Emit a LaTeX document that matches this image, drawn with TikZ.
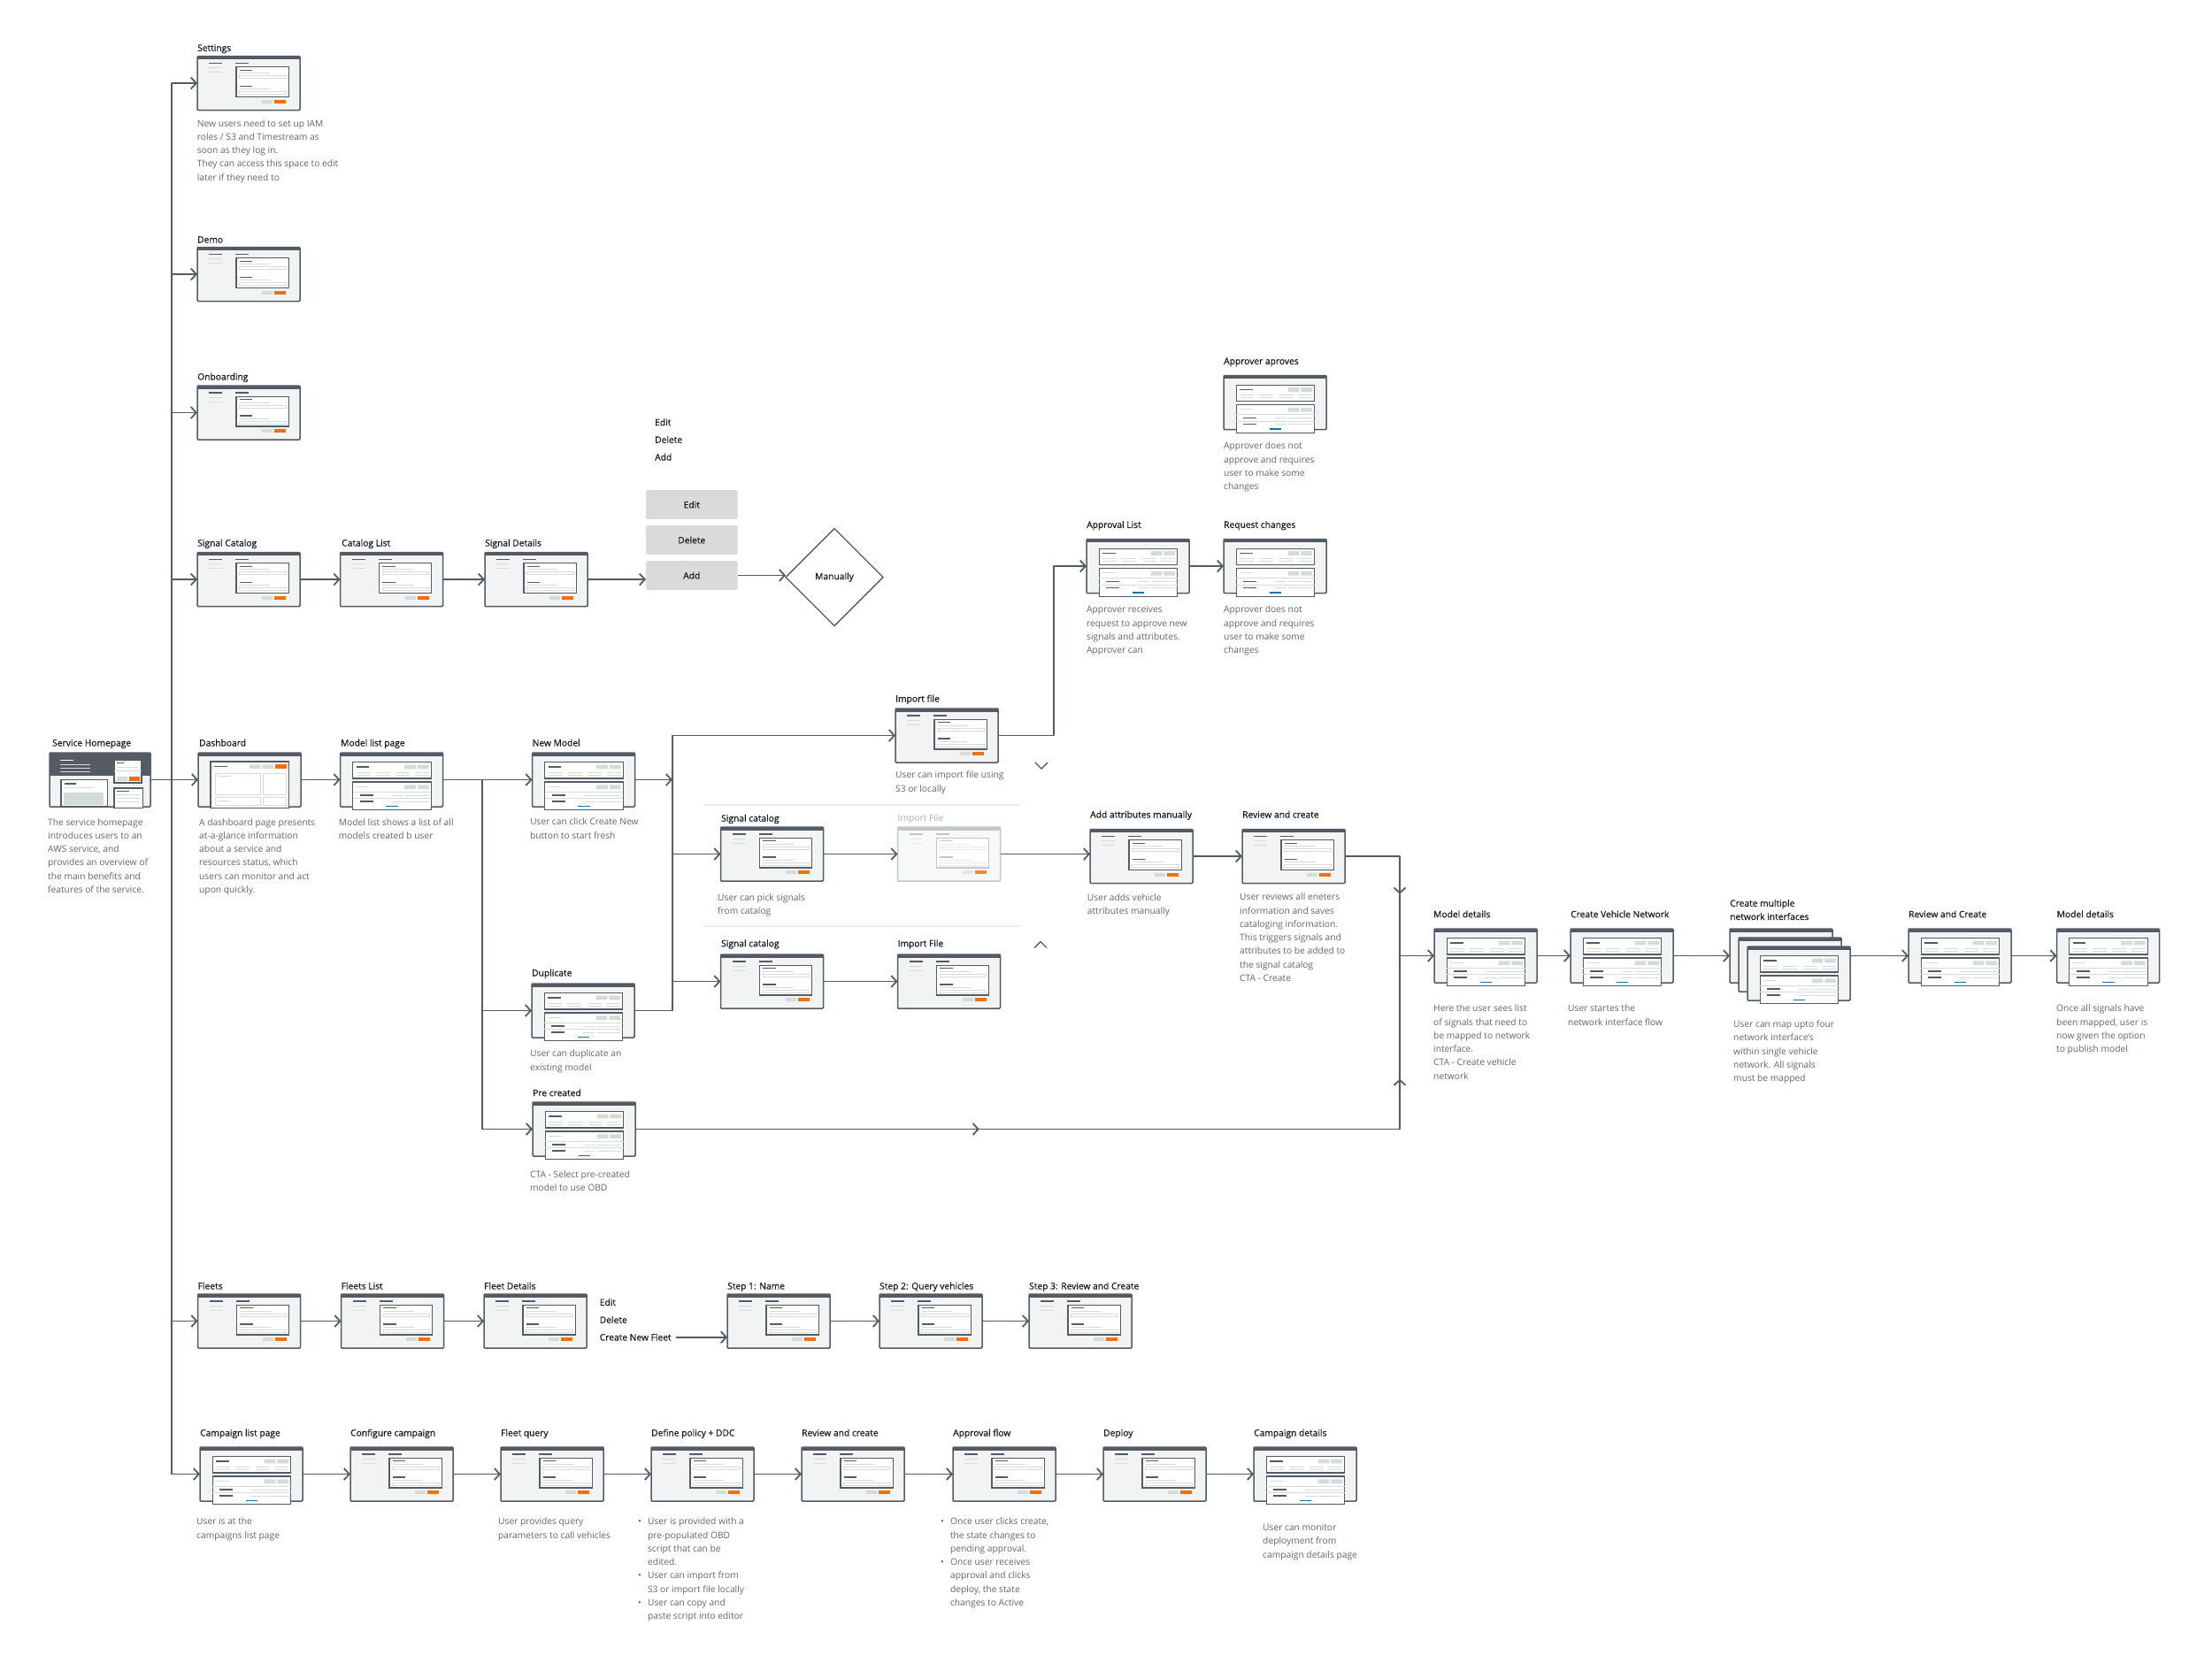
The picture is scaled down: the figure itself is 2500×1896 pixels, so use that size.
\documentclass[tikz,border=0pt]{standalone}
\usepackage{fontspec}
\setmainfont{Open Sans}
\newfontfamily\uititlefam[FakeBold=0.5]{Open Sans}
\usetikzlibrary{arrows.meta,shapes.geometric,decorations.markings}
\definecolor{uidark}{HTML}{545B64}
\definecolor{uifill}{HTML}{F2F3F3}
\definecolor{uiline}{HTML}{D5DBDB}
\definecolor{uibox}{HTML}{D5DBDB}
\definecolor{uiorange}{HTML}{EC7211}
\definecolor{uiblue}{HTML}{0073BB}
\definecolor{ttlc}{HTML}{16191F}
\definecolor{descc}{HTML}{5F6670}
\definecolor{connc}{HTML}{545B64}
\definecolor{btnc}{HTML}{DADADA}
\definecolor{sepc}{HTML}{E9EBED}
\definecolor{fadec}{HTML}{A9AFB5}
\newcommand\uifont{\fontsize{10.25}{15.3}\selectfont}
\newcommand\uitfont{\uititlefam\fontsize{10.25}{15.3}\selectfont}
\newcommand\uithumb[3]{\node[thumb] (#1) at (#2) {}; \pic at (#1.north west) {#3};}
\newcommand\uititle[3]{\node[ttl] (#1) at (#2) {#3};}
\newcommand\uidesc[3]{\node[desc] (#1) at (#2) {\begin{tabular}{@{}l@{}}#3\end{tabular}};}
\tikzset{
formui/.pic={
 \fill[uidark] (0,0) rectangle (116,3.5);
 \draw[uidark,line width=1.2] (13.3,8)--(28,8) (43.3,8)--(58,8);
 \draw[uiline,line width=1] (13.3,13.3)--(28,13.3) (13.3,18)--(28,18);
 \draw[uidark,fill=white,line width=1.1] (44,12.3) rectangle (103.3,46);
 \draw[uidark,line width=1.1] (47.7,15.7)--(62.3,15.7) (47.7,34)--(62.3,34);
 \draw[uiline,line width=1] (47.7,19.3)--(82,19.3) (47.7,37.3)--(82,37.3);
 \draw[uiline,line width=.8] (47.7,22.3) rectangle (100,25.3) (47.7,40) rectangle (100,43.3);
 \fill[uibox] (73,49) rectangle (85.3,53.3);
 \fill[uiorange] (87.3,49) rectangle (100.3,53.3);
},
listui/.pic={
 \fill[uidark] (0,0) rectangle (116,3.5);
 \draw[uidark,fill=white,line width=1.1] (14.3,10.7) rectangle (102.7,29);
 \draw[uidark,line width=1.2] (18.3,16)--(32.7,16);
 \fill[uibox] (72.7,13.7) rectangle (85.3,18.3) (87.3,13.7) rectangle (100,18.3);
 \foreach \yy in {22.3,25.3}{\draw[uiline,line width=.9] (18.3,\yy)--(34,\yy) (40,\yy)--(56,\yy) (62.7,\yy)--(78.7,\yy) (84.3,\yy)--(100,\yy);}
 \draw[uidark,fill=white,line width=1.1] (14.3,33) rectangle (102.7,64.7);
 \draw[uiline,line width=1] (18.3,38.3)--(32.7,38.3);
 \fill[uibox] (72.7,36.3) rectangle (85.3,41) (87.3,36.3) rectangle (100,41);
 \draw[uiline,line width=.9] (14.3,44)--(102.7,44) (14.3,51.7)--(102.7,51.7);
 \draw[uidark,line width=1.2] (22.3,48)--(37.3,48) (22.3,55)--(37.3,55);
 \draw[uiline,line width=.9] (58.3,48)--(71,48) (73.3,48)--(100,48) (58.3,55)--(71,55) (73.3,55)--(100,55);
 \draw[uiblue,line width=1.5] (51.7,60.7)--(65,60.7);
},
dashui/.pic={
 \fill[uidark] (0,0) rectangle (116,3.5);
 \draw[uidark,fill=white,line width=1.1] (14,10) rectangle (102.3,62.3);
 \draw[uidark,line width=1.2] (18.3,15.7)--(33,15.7);
 \fill[uibox] (58,13.3) rectangle (70.7,18) (72.3,13.3) rectangle (85,18);
 \fill[uiorange] (87.3,13.3) rectangle (99.7,18);
 \draw[uiline,line width=1] (19,23) rectangle (70,47.3) (73.3,23) rectangle (99,47.3) (19,50.7) rectangle (70,59.5) (73.3,50.7) rectangle (99,59.5);
 \draw[uiline,line width=1] (22,26.5)--(37,26.5) (22,54)--(37,54);
},
homeui/.pic={
 \fill[uidark] (0,0) rectangle (114,25.7);
 \draw[white,line width=1.2] (12.3,8.3)--(27.3,8.3);
 \draw[uiline,line width=1] (12.3,13.3)--(45.7,13.3) (12.3,17.3)--(45.7,17.3) (12.3,21.3)--(45.7,21.3);
 \draw[uidark,fill=white,line width=1.1] (73,8) rectangle (104,34);
 \draw[uidark,line width=1.1] (76.3,11.3)--(84,11.3);
 \draw[uiline,line width=.9] (76.3,16.5)--(100,16.5) (73,20)--(104,20);
 \fill[uibox] (76.3,27.3) rectangle (88,32);
 \fill[uiorange] (90,27.3) rectangle (102,32);
 \draw[uidark,fill=white,line width=1.1] (13,30.7) rectangle (65.7,61);
 \draw[uidark,line width=1.1] (17,35)--(30,35);
 \draw[uiline,line width=.9] (17,39)--(50,39);
 \fill[uibox] (15.7,45) rectangle (61.3,59);
 \draw[uidark,fill=white,line width=1.1] (73,40) rectangle (105.7,62.3);
 \draw[uidark,line width=1.1] (76,43.3)--(90,43.3);
 \draw[uiline,line width=.9] (76,47.5)--(102,47.5) (76,51.5)--(102,51.5) (76,55.5)--(102,55.5);
},
barui/.pic={
 \fill[uidark] (0,0) rectangle (116,3.5);
}
}
\begin{document}
\begin{tikzpicture}[x=1pt,y=-1pt,
 thumb/.style={draw=uidark,fill=uifill,line width=1.5,rounded corners=1,minimum width=116,minimum height=61,inner sep=0,outer sep=0,anchor=north west},
 ttl/.style={anchor=base west,inner sep=0,font=\uitfont,text=ttlc},
 desc/.style={anchor=north west,inner sep=0,font=\uifont,text=descc},
 conn/.style={draw=connc,line width=1.8,line join=round},
 arr/.style={conn,-{Straight Barb[length=6pt,width=13pt]}},
 marrow/.style={postaction={decorate,decoration={markings,mark=at position #1 with {\arrow{Straight Barb[length=6pt,width=13pt]}}}}},
 btn/.style={fill=btnc,rounded corners=2,minimum width=103.5,minimum height=33,inner sep=0,outer sep=0,anchor=north west,font=\uitfont,text=ttlc},
 chev/.style={draw=connc,line width=1.4,line join=miter},
 sepline/.style={draw=sepc,line width=1.8}
]
\fill[white] (0,0) rectangle (2500,1896);
\useasboundingbox (0,0) rectangle (2500,1896);

% ---------- left column ----------
\uithumb{settings}{223,63.5}{formui}
\uititle{t-settings}{223,57.8}{Settings}
\uidesc{d-settings}{222.7,132.1}{New users need to set up IAM\\roles / S3 and Timestream as\\soon as they log in.\\They can access this space to edit\\later if they need to}
\uithumb{demo}{223,279.5}{formui}
\uititle{t-demo}{223,274.5}{Demo}
\uithumb{onboard}{223,436}{formui}
\uititle{t-onboard}{223,429.5}{Onboarding}

% ---------- signal catalog row ----------
\uithumb{sigcat}{223,624.5}{formui}
\uititle{t-sigcat}{223,617.5}{Signal Catalog}
\uithumb{catl}{384.5,624.5}{formui}
\uititle{t-catl}{386,617.5}{Catalog List}
\uithumb{sigd}{548,624.5}{formui}
\uititle{t-sigd}{548,617.5}{Signal Details}
\uititle{e1}{740,481.2}{Edit}
\uititle{d1}{740,500.8}{Delete}
\uititle{a1}{740,520.5}{Add}
\node[btn] (bedit) at (730,554) {Edit};
\node[btn] (bdel) at (730,594) {Delete};
\node[btn] (badd) at (730,634) {Add};
\node[diamond,aspect=1,draw=uidark,line width=1.4,minimum width=110,minimum height=110,inner sep=0,outer sep=0,font=\uitfont,text=ttlc] (dia) at (943,652.5) {Manually};

% ---------- dashboard row ----------
\node[thumb,minimum width=114] (home) at (56,851) {};
\pic at (home.north west) {homeui};
\uititle{t-home}{59,843.5}{Service Homepage}
\uidesc{d-home}{54,922.1}{The service homepage\\introduces users to an\\AWS service, and\\provides an overview of\\the main benefits and\\features of the service.}
\uithumb{dash}{224,851}{dashui}
\uititle{t-dash}{225,843.5}{Dashboard}
\uidesc{d-dash}{225,922.1}{A dashboard page presents\\at-a-glance information\\about a service and\\resources status, which\\users can monitor and act\\upon quickly.}
\uithumb{mlist}{384.5,851}{listui}
\uititle{t-mlist}{385,843.5}{Model list page}
\uidesc{d-mlist}{382.7,922.1}{Model list shows a list of all\\models created b user}
\uithumb{newm}{601.5,851}{listui}
\uititle{t-newm}{601.5,843.5}{New Model}
\uidesc{d-newm}{598.8,921.8}{User can click Create New\\button to start fresh}
\uithumb{dup}{601,1112}{listui}
\uititle{t-dup}{601,1103.5}{Duplicate}
\uidesc{d-dup}{599,1183.8}{User can duplicate an\\existing model}
\uithumb{pre}{602,1246}{listui}
\uititle{t-pre}{602,1239.2}{Pre created}
\uidesc{d-pre}{599,1320.5}{CTA - Select pre-created\\model to use OBD}

% ---------- import / signal catalog options ----------
\uithumb{imp}{1012,801}{formui}
\uititle{t-imp}{1012,793.5}{Import file}
\uidesc{d-imp}{1012,868.8}{User can import file using\\S3 or locally}
\draw[sepline] (795,910) -- (1152.6,910);
\draw[sepline] (795,1047) -- (1152.6,1047);
\uithumb{sc1}{814.5,935}{formui}
\uititle{t-sc1}{815,928.7}{Signal catalog}
\uidesc{d-sc1}{811,1007.1}{User can pick signals\\from catalog}
\begin{scope}
\colorlet{uidark}{uidark!35}
\colorlet{uifill}{uifill!60}
\colorlet{uiline}{uiline!60}
\colorlet{uibox}{uibox!70}
\colorlet{uiorange}{uiorange!85}
\uithumb{impf}{1014.5,935}{formui}
\end{scope}
\node[desc,anchor=base west,text=fadec] (t-impf) at (1014.5,928.7) {Import File};
\uithumb{sc2}{814.5,1079}{formui}
\uititle{t-sc2}{815,1070.2}{Signal catalog}
\uithumb{imp2}{1014.5,1079}{formui}
\uititle{t-imp2}{1014.5,1070.2}{Import File}
\draw[chev] (1170,862) -- (1177,869) -- (1184,862);
\draw[chev] (1169,1071.5) -- (1176,1064.5) -- (1183,1071.5);

\uithumb{addm}{1232,937.5}{formui}
\uititle{t-addm}{1232,924.5}{Add attributes manually}
\uidesc{d-addm}{1228.7,1007.1}{User adds vehicle\\attributes manually}
\uithumb{rev}{1404,937.5}{formui}
\uititle{t-rev}{1404,924.5}{Review and create}
\uidesc{d-rev}{1401,1006.8}{User reviews all eneters\\information and saves\\cataloging information.\\This triggers signals and\\attributes to be added to\\the signal catalog\\CTA - Create}

% ---------- approval ----------
\uithumb{aprv}{1383,424.5}{listui}
\uititle{t-aprv}{1383,411.8}{Approver aproves}
\uidesc{d-aprv}{1383,496.8}{Approver does not\\approve and requires\\user to make some\\changes}
\uithumb{appl}{1228,609.5}{listui}
\uititle{t-appl}{1228,596.8}{Approval List}
\uidesc{d-appl}{1228,681.8}{Approver receives\\request to approve new\\signals and attributes.\\Approver can}
\uithumb{reqc}{1383,609.5}{listui}
\uititle{t-reqc}{1383,596.8}{Request changes}
\uidesc{d-reqc}{1383,681.8}{Approver does not\\approve and requires\\user to make some\\changes}

% ---------- model details row ----------
\uithumb{md}{1621,1050}{listui}
\uititle{t-md}{1620,1037.2}{Model details}
\uidesc{d-md}{1620,1132.8}{Here the user sees list\\of signals that need to\\be mapped to network\\interface.\\CTA - Create vehicle\\network}
\uithumb{cvn}{1775,1050}{listui}
\uititle{t-cvn}{1775,1037.2}{Create Vehicle Network}
\uidesc{d-cvn}{1772,1132.8}{User startes the\\network interface flow}
\uithumb{stk1}{1955,1050}{barui}
\uithumb{stk2}{1965,1060}{barui}
\uithumb{stk3}{1975,1070}{listui}
\uititle{t-stk1}{1955,1024.8}{Create multiple}
\uititle{t-stk2}{1955,1040}{network interfaces}
\uidesc{d-stk}{1959,1150.5}{User can map upto four\\network interface's\\within single vehicle\\network. All signals\\must be mapped}
\uithumb{rc2}{2157,1050}{listui}
\uititle{t-rc2}{2157,1037.2}{Review and Create}
\uithumb{md2}{2324.5,1050}{listui}
\uititle{t-md2}{2324.5,1037.2}{Model details}
\uidesc{d-md2}{2324,1132.8}{Once all signals have\\been mapped, user is\\now given the option\\to publish model}

% ---------- fleets row ----------
\uithumb{fleets}{223.5,1463}{formui}
\uititle{t-fleets}{223.5,1457.5}{Fleets}
\uithumb{fll}{385.5,1463}{formui}
\uititle{t-fll}{385.5,1457.5}{Fleets List}
\uithumb{fld}{547,1463}{formui}
\uititle{t-fld}{547,1457.5}{Fleet Details}
\uititle{e2}{677.6,1476}{Edit}
\uititle{d2}{677.6,1495.8}{Delete}
\uititle{cnf}{677.6,1515.5}{Create New Fleet}
\uithumb{st1}{822,1463}{formui}
\uititle{t-st1}{822,1457.5}{Step 1: Name}
\uithumb{st2}{994,1463}{formui}
\uititle{t-st2}{994,1457.5}{Step 2: Query vehicles}
\uithumb{st3}{1163,1463}{formui}
\uititle{t-st3}{1163,1457.5}{Step 3: Review and Create}

% ---------- campaign row ----------
\uithumb{camp}{226,1636}{listui}
\uititle{t-camp}{226,1623.5}{Campaign list page}
\uidesc{d-camp}{222,1712.8}{User is at the\\campaigns list page}
\uithumb{conf}{396,1636}{formui}
\uititle{t-conf}{396,1623.5}{Configure campaign}
\uithumb{fq}{566,1636}{formui}
\uititle{t-fq}{566,1623.5}{Fleet query}
\uidesc{d-fq}{563,1712.8}{User provides query\\parameters to call vehicles}
\uithumb{dp}{736,1636}{formui}
\uititle{t-dp}{736,1623.5}{Define policy + DDC}
\node[desc] (d-dp) at (721,1712.8) {\begin{tabular}{@{}l@{\hspace{7pt}}l@{}}\textbullet & User is provided with a\\ & pre-populated OBD\\ & script that can be\\ & edited.\\ \textbullet & User can import from\\ & S3 or import file locally\\ \textbullet & User can copy and\\ & paste script into editor\end{tabular}};
\uithumb{rcc}{906,1636}{formui}
\uititle{t-rcc}{906,1623.5}{Review and create}
\uithumb{af}{1077,1636}{formui}
\uititle{t-af}{1077,1623.5}{Approval flow}
\node[desc] (d-af) at (1063,1712.8) {\begin{tabular}{@{}l@{\hspace{7pt}}l@{}}\textbullet & Once user clicks create,\\ & the state changes to\\ & pending approval.\\ \textbullet & Once user receives\\ & approval and clicks\\ & deploy, the state\\ & changes to Active\end{tabular}};
\uithumb{dep}{1247,1636}{formui}
\uititle{t-dep}{1247,1623.5}{Deploy}
\uithumb{cd}{1417,1636}{listui}
\uititle{t-cd}{1417,1623.5}{Campaign details}
\uidesc{d-cd}{1427,1719.5}{User can monitor\\deployment from\\campaign details page}

% ---------- connectors ----------
\coordinate (tk) at (194,0);
\draw[conn,line cap=round] (tk |- settings.west) -- (tk |- camp.west);
\foreach \n in {settings,demo,onboard,sigcat,fleets,camp}
  \draw[arr] (tk |- \n.west) -- (\n.west);
\draw[arr] (sigcat.east) -- (catl.west);
\draw[arr] (catl.east) -- (sigd.west);
\draw[arr] (sigd.east) -- (sigd.east -| badd.west);
\draw[arr] (badd.east) -- (badd.east -| dia.west);

\draw[arr] (home.east) -- (dash.west);
\draw[arr] (dash.east) -- (mlist.west);
\draw[arr] (mlist.east) -- (newm.west);
\coordinate (br1) at (545,0);
\draw[conn,line cap=round] (br1 |- mlist.east) -- (br1 |- pre.west);
\draw[arr] (br1 |- dup.west) -- (dup.west);
\draw[arr] (br1 |- pre.west) -- (pre.west);

\coordinate (br2) at (760,0);
\draw[arr] (newm.east) -- (newm.east -| br2);
\draw[conn,line cap=round] (br2 |- imp.west) -- (br2 |- dup.east);
\draw[conn] (dup.east) -- (dup.east -| br2);
\draw[arr] (br2 |- imp.west) -- (imp.west);
\draw[arr] (br2 |- sc1.west) -- (sc1.west);
\draw[arr] (br2 |- sc2.west) -- (sc2.west);

\coordinate (br3) at (1191,0);
\draw[arr] (imp.east) -- (imp.east -| br3) -- (br3 |- appl.west) -- (appl.west);
\draw[arr] (appl.east) -- (reqc.west);

\draw[arr] (sc1.east) -- (impf.west);
\draw[arr] (impf.east) -- (impf.east -| addm.west);
\draw[arr] (addm.east) -- (rev.west);
\draw[arr] (sc2.east) -- (imp2.west);

\coordinate (br4) at (1582,0);
\draw[conn] (rev.east) -- (rev.east -| br4);
\draw[conn,line cap=round,marrow=0.38] (rev.east -| br4) -- (br4 |- md.west);
\draw[conn,marrow=0.45] (pre.east) -- (pre.east -| br4);
\draw[conn,line cap=round,marrow=0.29] (pre.east -| br4) -- (br4 |- md.west);
\draw[arr] (br4 |- md.west) -- (md.west);
\draw[arr] (md.east) -- (cvn.west);
\draw[arr] (cvn.east) -- (stk1.west);
\draw[arr] (stk3.east |- rc2.west) -- (rc2.west);
\draw[arr] (rc2.east) -- (md2.west);

\draw[arr] (fleets.east) -- (fll.west);
\draw[arr] (fll.east) -- (fld.west);
\draw[arr] ([xshift=5pt]cnf.east) -- (cnf.east -| st1.west);
\draw[arr] (st1.east) -- (st2.west);
\draw[arr] (st2.east) -- (st3.west);

\draw[arr] (camp.east) -- (conf.west);
\draw[arr] (conf.east) -- (fq.west);
\draw[arr] (fq.east) -- (dp.west);
\draw[arr] (dp.east) -- (rcc.west);
\draw[arr] (rcc.east) -- (af.west);
\draw[arr] (af.east) -- (dep.west);
\draw[arr] (dep.east) -- (cd.west);
\end{tikzpicture}
\end{document}
